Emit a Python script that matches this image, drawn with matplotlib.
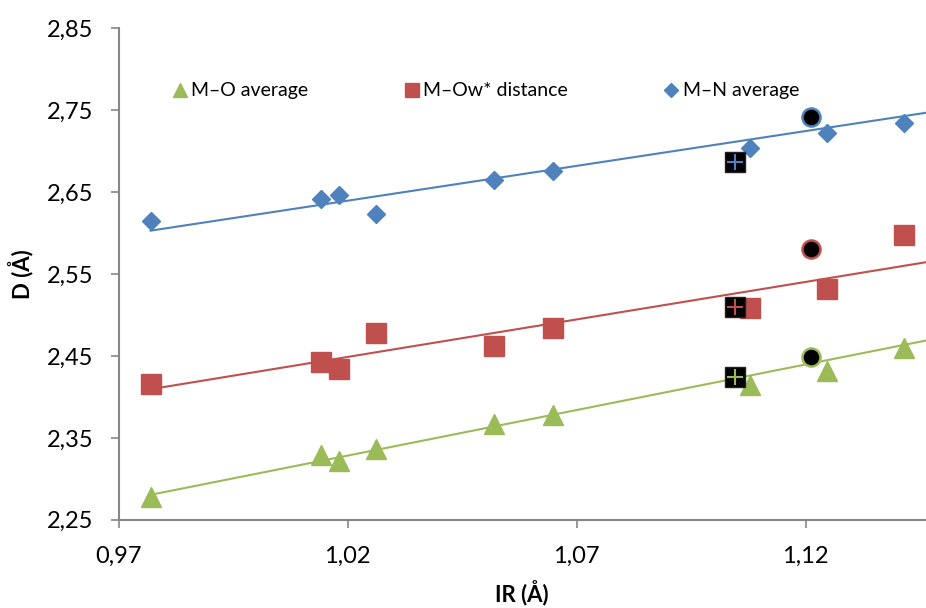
import numpy as np
import matplotlib.pyplot as plt

# ionic radius (Å) of the lanthanide series
ir = [0.9770, 1.0141, 1.0182, 1.0263, 1.0519, 1.0648, 1.1078, 1.1246, 1.1415]
mo_avg = [2.278, 2.329, 2.322, 2.337, 2.367, 2.378, 2.415, 2.431, 2.460]
mow_dist = [2.4155, 2.443, 2.434, 2.478, 2.462, 2.484, 2.508, 2.531, 2.598]
mn_avg = [2.6146, 2.641, 2.646, 2.623, 2.664, 2.676, 2.704, 2.722, 2.7345]

# linear trendlines as printed on the chart: slope, intercept
trend_slope = [1.1117, 0.9150, 0.8494]     # M-O, M-Ow*, M-N
trend_intercept = [1.1944, 1.5154, 1.7729]

# extra complexes (black markers)
ir_sq = 1.1047
sq_vals = [2.424, 2.510, 2.686]   # M-O, M-Ow*, M-N
ir_circ = 1.1213
circ_vals = [2.449, 2.580, 2.741]

green = '#9BBB59'
red = '#C0504D'
blue = '#4F81BD'

plt.rcParams['font.family'] = ['Lato', 'DejaVu Sans']

fig = plt.figure(figsize=(9.26, 6.08), dpi=100)
ax = fig.add_axes([0.128, 0.145, 0.872, 0.809])

xmin, xmax = 0.97, 1.1463
series = [(mo_avg, green, '^', 'M\u2013O average', 14),
          (mow_dist, red, 's', 'M\u2013Ow* distance', 14),
          (mn_avg, blue, 'D', 'M\u2013N average', 9.5)]

for (vals, col, mk, lab, ms), k, b in zip(series, trend_slope, trend_intercept):
    xs = np.array([min(ir), xmax])
    ax.plot(xs, k * xs + b, color=col, lw=1.5, zorder=2)
    ax.plot(ir, vals, linestyle='none', marker=mk, color=col, ms=ms, mec=col,
            label=lab, zorder=3)

cols = [green, red, blue]
for v, col in zip(sq_vals, cols):
    ax.plot(ir_sq, v, marker='s', color='black', ms=14, mec='#222222', zorder=4)
    ax.plot(ir_sq, v, marker='+', color=col, ms=12, mew=1.5, zorder=5)
for v, col in zip(circ_vals, cols):
    ax.plot(ir_circ, v, marker='o', color='black', ms=13, mec=col, mew=1.8, zorder=4)

ax.set_xlim(xmin, xmax)
ax.set_ylim(2.25, 2.85)
xt = [0.97, 1.02, 1.07, 1.12]
yt = [2.25, 2.35, 2.45, 2.55, 2.65, 2.75, 2.85]
ax.set_xticks(xt)
ax.set_yticks(yt)
ax.set_xticklabels([f'{t:.2f}'.replace('.', ',') for t in xt], fontsize=17)
ax.set_yticklabels([f'{t:.2f}'.replace('.', ',') for t in yt], fontsize=17)
ax.tick_params(axis='x', pad=13, length=6, color='#868686', width=1.2)
ax.tick_params(axis='y', pad=12, length=6, color='#868686', width=1.2)

for s in ['top', 'right']:
    ax.spines[s].set_visible(False)
for s in ['left', 'bottom']:
    ax.spines[s].set_color('#868686')
    ax.spines[s].set_linewidth(1.5)

ax.set_xlabel('IR (\u00c5)', fontsize=16, fontweight='bold', labelpad=9)
ax.set_ylabel('D (\u00c5)', fontsize=16, fontweight='bold', labelpad=10)

leg = ax.legend(loc='center left', bbox_to_anchor=(0.047, 0.872), ncol=3, frameon=False,
                fontsize=14, markerscale=0.7, handlelength=0.6, handletextpad=0.3,
                columnspacing=5.0)

fig.savefig('out.png', dpi=100)
